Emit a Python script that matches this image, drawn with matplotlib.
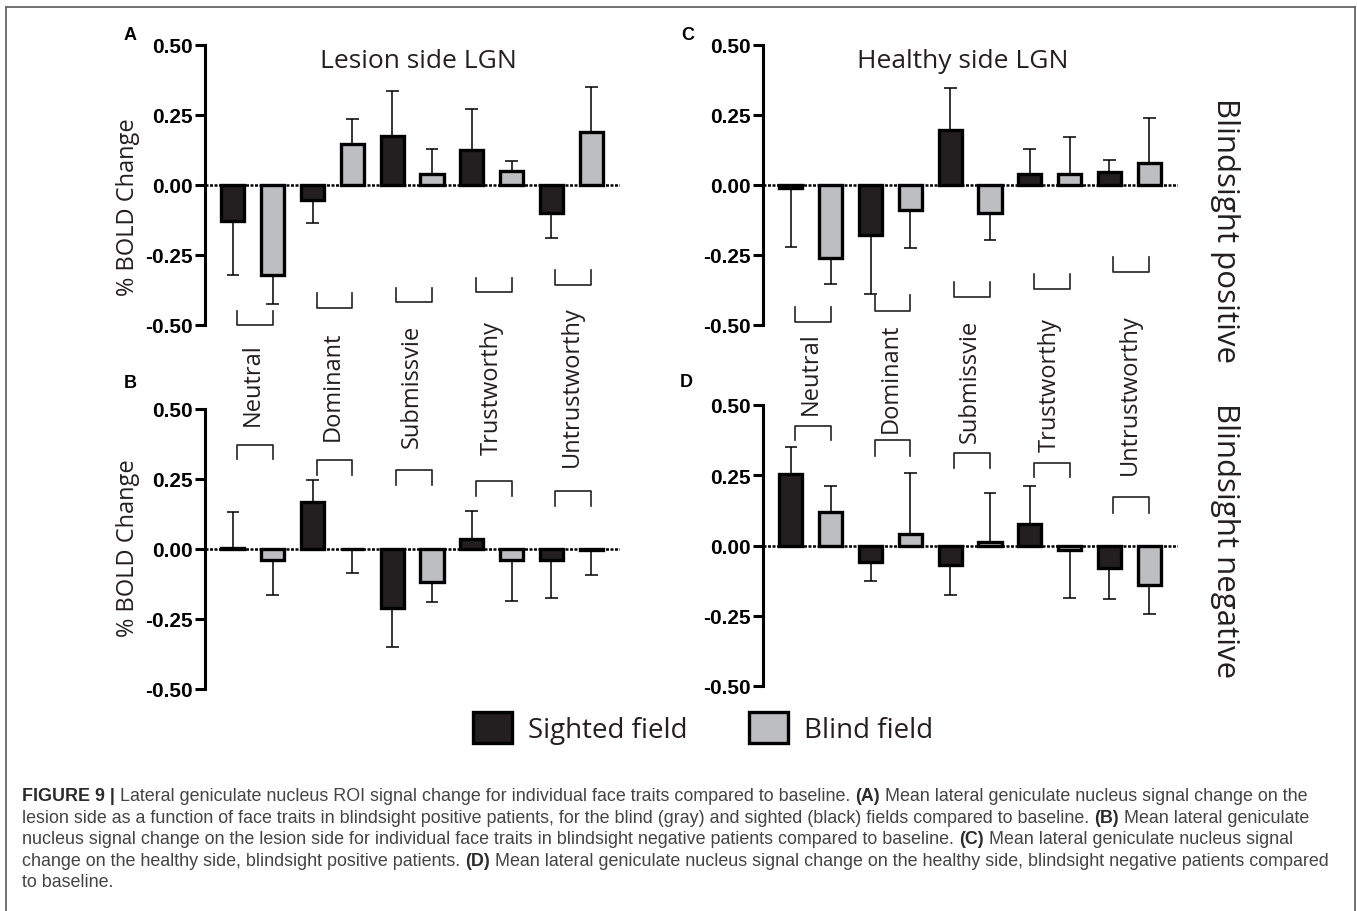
import matplotlib
matplotlib.use("Agg")
import matplotlib.pyplot as plt
from matplotlib.lines import Line2D
from matplotlib.font_manager import FontProperties
import numpy as np

W, H, DPI = 1357, 912, 100

# ---------------- data ----------------
traits = ["Neutral", "Dominant", "Submissvie", "Trustworthy", "Untrustworthy"]
fields = ["Sighted field", "Blind field"]

# (A) lesion side LGN, blindsight positive
a_sighted = [-0.13, -0.055, 0.175, 0.125, -0.10]
a_sighted_err = [0.19, 0.08, 0.16, 0.145, 0.09]
a_blind = [-0.32, 0.145, 0.04, 0.05, 0.19]
a_blind_err = [0.105, 0.09, 0.09, 0.035, 0.16]
# (B) lesion side LGN, blindsight negative
b_sighted = [0.002, 0.165, -0.21, 0.035, -0.04]
b_sighted_err = [0.13, 0.08, 0.14, 0.10, 0.135]
b_blind = [-0.04, -0.002, -0.12, -0.04, -0.003]
b_blind_err = [0.125, 0.085, 0.07, 0.145, 0.09]
# (C) healthy side LGN, blindsight positive
c_sighted = [-0.01, -0.18, 0.195, 0.04, 0.045]
c_sighted_err = [0.21, 0.21, 0.15, 0.09, 0.045]
c_blind = [-0.26, -0.09, -0.10, 0.04, 0.08]
c_blind_err = [0.095, 0.135, 0.095, 0.13, 0.16]
# (D) healthy side LGN, blindsight negative
d_sighted = [0.255, -0.057, -0.07, 0.075, -0.08]
d_sighted_err = [0.095, 0.068, 0.105, 0.135, 0.112]
d_blind = [0.12, 0.042, 0.012, -0.017, -0.14]
d_blind_err = [0.09, 0.217, 0.175, 0.17, 0.105]

yticks = [-0.50, -0.25, 0.00, 0.25, 0.50]
titles = {"A": "Lesion side LGN", "C": "Healthy side LGN"}
row_labels = ["Blindsight positive", "Blindsight negative"]
ylabel = "% BOLD Change"

caption_lines = [
    [("FIGURE 9 | ", True),
     ("Lateral geniculate nucleus ROI signal change for individual face traits compared to baseline. ", False),
     ("(A)", True), (" Mean lateral geniculate nucleus signal change on the", False)],
    [("lesion side as a function of face traits in blindsight positive patients, for the blind (gray) and sighted (black) fields compared to baseline. ", False),
     ("(B)", True), (" Mean lateral geniculate", False)],
    [("nucleus signal change on the lesion side for individual face traits in blindsight negative patients compared to baseline. ", False),
     ("(C)", True), (" Mean lateral geniculate nucleus signal", False)],
    [("change on the healthy side, blindsight positive patients. ", False),
     ("(D)", True), (" Mean lateral geniculate nucleus signal change on the healthy side, blindsight negative patients compared", False)],
    [("to baseline.", False)],
]

# ---------------- style ----------------
DARK = "#231f20"
GRAY = "#bcbec0"
CHART_FONT = "Open Sans"
TICK_FONT = "Liberation Sans"

fig = plt.figure(figsize=(W / DPI, H / DPI), dpi=DPI)
fig.patch.set_facecolor("white")


def px_axes(left, top, right, bottom):
    return fig.add_axes([left / W, 1 - bottom / H, (right - left) / W, (bottom - top) / H])


def fx(x):
    return x / W


def fy(y):
    return 1 - y / H


panel_specs = {
    "A": dict(rect=(205, 46, 620, 326), s=a_sighted, se=a_sighted_err, b=a_blind, be=a_blind_err,
              br_y=[-0.50, -0.44, -0.419, -0.383, -0.357], br_leg=[-0.45, -0.387, -0.367, -0.331, -0.304]),
    "B": dict(rect=(205, 409.5, 620, 690), s=b_sighted, se=b_sighted_err, b=b_blind, be=b_blind_err,
              br_y=[0.371, 0.315, 0.282, 0.24, 0.205], br_leg=[0.321, 0.262, 0.229, 0.188, 0.152],
              lab_y=[0.44, 0.387, 0.363, 0.339, 0.295]),
    "C": dict(rect=(763, 46, 1178, 326), s=c_sighted, se=c_sighted_err, b=c_blind, be=c_blind_err,
              br_y=[-0.49, -0.449, -0.399, -0.373, -0.31], br_leg=[-0.435, -0.393, -0.345, -0.319, -0.256]),
    "D": dict(rect=(763, 406, 1178, 687), s=d_sighted, se=d_sighted_err, b=d_blind, be=d_blind_err,
              br_y=[0.427, 0.374, 0.329, 0.294, 0.172], br_leg=[0.374, 0.318, 0.276, 0.243, 0.116],
              lab_y=[0.469, 0.403, 0.37, 0.338, 0.255]),
}

bar_handles = None
for key, sp in panel_specs.items():
    ax = px_axes(*sp["rect"])
    n = len(traits)
    xs = np.arange(n) * 2.0
    xb = xs + 1.0
    hs = ax.bar(xs, sp["s"], width=0.58, color=DARK, edgecolor="black", linewidth=2.4, zorder=3)
    hb = ax.bar(xb, sp["b"], width=0.58, color=GRAY, edgecolor="black", linewidth=2.4, zorder=3)
    if bar_handles is None:
        bar_handles = [hs, hb]
    for xpos, vals, errs in ((xs, sp["s"], sp["se"]), (xb, sp["b"], sp["be"])):
        vals = np.asarray(vals)
        errs = np.asarray(errs)
        ends = vals + np.sign(vals) * errs
        ax.vlines(xpos, vals, ends, color="black", linewidth=1.1, zorder=2)
        ax.hlines(ends, xpos - 0.16, xpos + 0.16, color="black", linewidth=1.1, zorder=2)
    ax.axhline(0, color="black", linewidth=1.8, linestyle=(0, (1.2, 0.6)), zorder=4)

    ax.set_xlim(-0.7, 9.72)
    ax.set_ylim(-0.5, 0.5)
    for s in ("top", "right", "bottom"):
        ax.spines[s].set_visible(False)
    ax.spines["left"].set_linewidth(2.2)
    ax.set_xticks([])
    ax.set_yticks(yticks, labels=[f"{t:.2f}" for t in yticks])
    ax.tick_params(axis="y", length=7, width=2.2, pad=2, labelsize=15)
    for lab in ax.get_yticklabels():
        lab.set_fontfamily(TICK_FONT)
        lab.set_fontweight("bold")
    ax.patch.set_alpha(0)

    # brackets
    for i in range(n):
        x0, x1 = xs[i] + 0.1, xs[i] + 1.0
        yb, yl = sp["br_y"][i], sp["br_leg"][i]
        ax.add_line(Line2D([x0, x0, x1, x1], [yl, yb, yb, yl], color="#222222",
                           linewidth=1.2, clip_on=False))
    # category labels (between rows), positioned relative to lower panels
    if "lab_y" in sp:
        for i, t in enumerate(traits):
            ax.text(xs[i] + 0.5, sp["lab_y"][i], t, rotation=90, ha="center", va="bottom",
                    fontsize=17, family=CHART_FONT, color="#231f20", clip_on=False)

    if key in titles:
        pass

# titles
fig.text(fx(418), fy(61), titles["A"], ha="center", va="center", fontsize=19,
         family=CHART_FONT, color="#231f20")
fig.text(fx(963), fy(61), titles["C"], ha="center", va="center", fontsize=19,
         family=CHART_FONT, color="#231f20")

# panel letters
for letter, (px, py) in {"A": (130, 35), "B": (130, 384), "C": (688, 35), "D": (686, 383)}.items():
    fig.text(fx(px), fy(py), letter, ha="center", va="center", fontsize=13,
             fontweight="bold", family=TICK_FONT, color="black")

# y labels (left column)
fig.text(fx(128), fy(207), ylabel, rotation=90, ha="center", va="center", fontsize=17,
         family=CHART_FONT, color="#231f20")
fig.text(fx(128), fy(548), ylabel, rotation=90, ha="center", va="center", fontsize=17,
         family=CHART_FONT, color="#231f20")

# right row labels
fig.text(fx(1225), fy(231), row_labels[0], rotation=-90, ha="center", va="center",
         fontsize=22.5, family=CHART_FONT, color="#231f20")
fig.text(fx(1225), fy(541), row_labels[1], rotation=-90, ha="center", va="center",
         fontsize=22.5, family=CHART_FONT, color="#231f20")

# legend
leg = fig.legend(bar_handles, fields, loc="center", bbox_to_anchor=(fx(703), fy(729)),
                 ncol=2, frameon=False, borderpad=0, handlelength=1.4, handleheight=1.35,
                 handletextpad=0.58, columnspacing=2.2,
                 prop=FontProperties(family=CHART_FONT, size=20))
for t in leg.get_texts():
    t.set_color("#231f20")

# frame around the page
frame_kw = dict(color="#666666", linewidth=1.3, transform=fig.transFigure)
fig.add_artist(Line2D([fx(6), fx(6)], [0, fy(8)], **frame_kw))
fig.add_artist(Line2D([fx(6), fx(1355)], [fy(8), fy(8)], **frame_kw))
fig.add_artist(Line2D([fx(1355), fx(1355)], [fy(8), 0], **frame_kw))

# caption with mixed weights
fig.canvas.draw()
renderer = fig.canvas.get_renderer()
CAP_FONT = "Liberation Sans"


def seg_width(txt, bold, size):
    prop = FontProperties(family=CAP_FONT, size=size, weight="bold" if bold else "normal")
    w1, _, _ = renderer.get_text_width_height_descent("|" + txt + "|", prop, ismath=False)
    w0, _, _ = renderer.get_text_width_height_descent("||", prop, ismath=False)
    return w1 - w0


base = 11.0
line1_w = sum(seg_width(t, b, base) for t, b in caption_lines[0])
cap_size = base * (1285.0 / line1_w)
cap_x0 = 22
cap_y0 = 797
cap_dy = 21.4
for li, segs in enumerate(caption_lines):
    x = cap_x0
    y = cap_y0 + li * cap_dy
    for txt, bold in segs:
        fig.text(fx(x), fy(y), txt, ha="left", va="center", fontsize=cap_size,
                 fontweight="bold" if bold else "normal", family=CAP_FONT,
                 color="#2b2b2b" if bold else "#444444")
        x += seg_width(txt, bold, cap_size)

fig.savefig("out.png", dpi=DPI, facecolor="white")
